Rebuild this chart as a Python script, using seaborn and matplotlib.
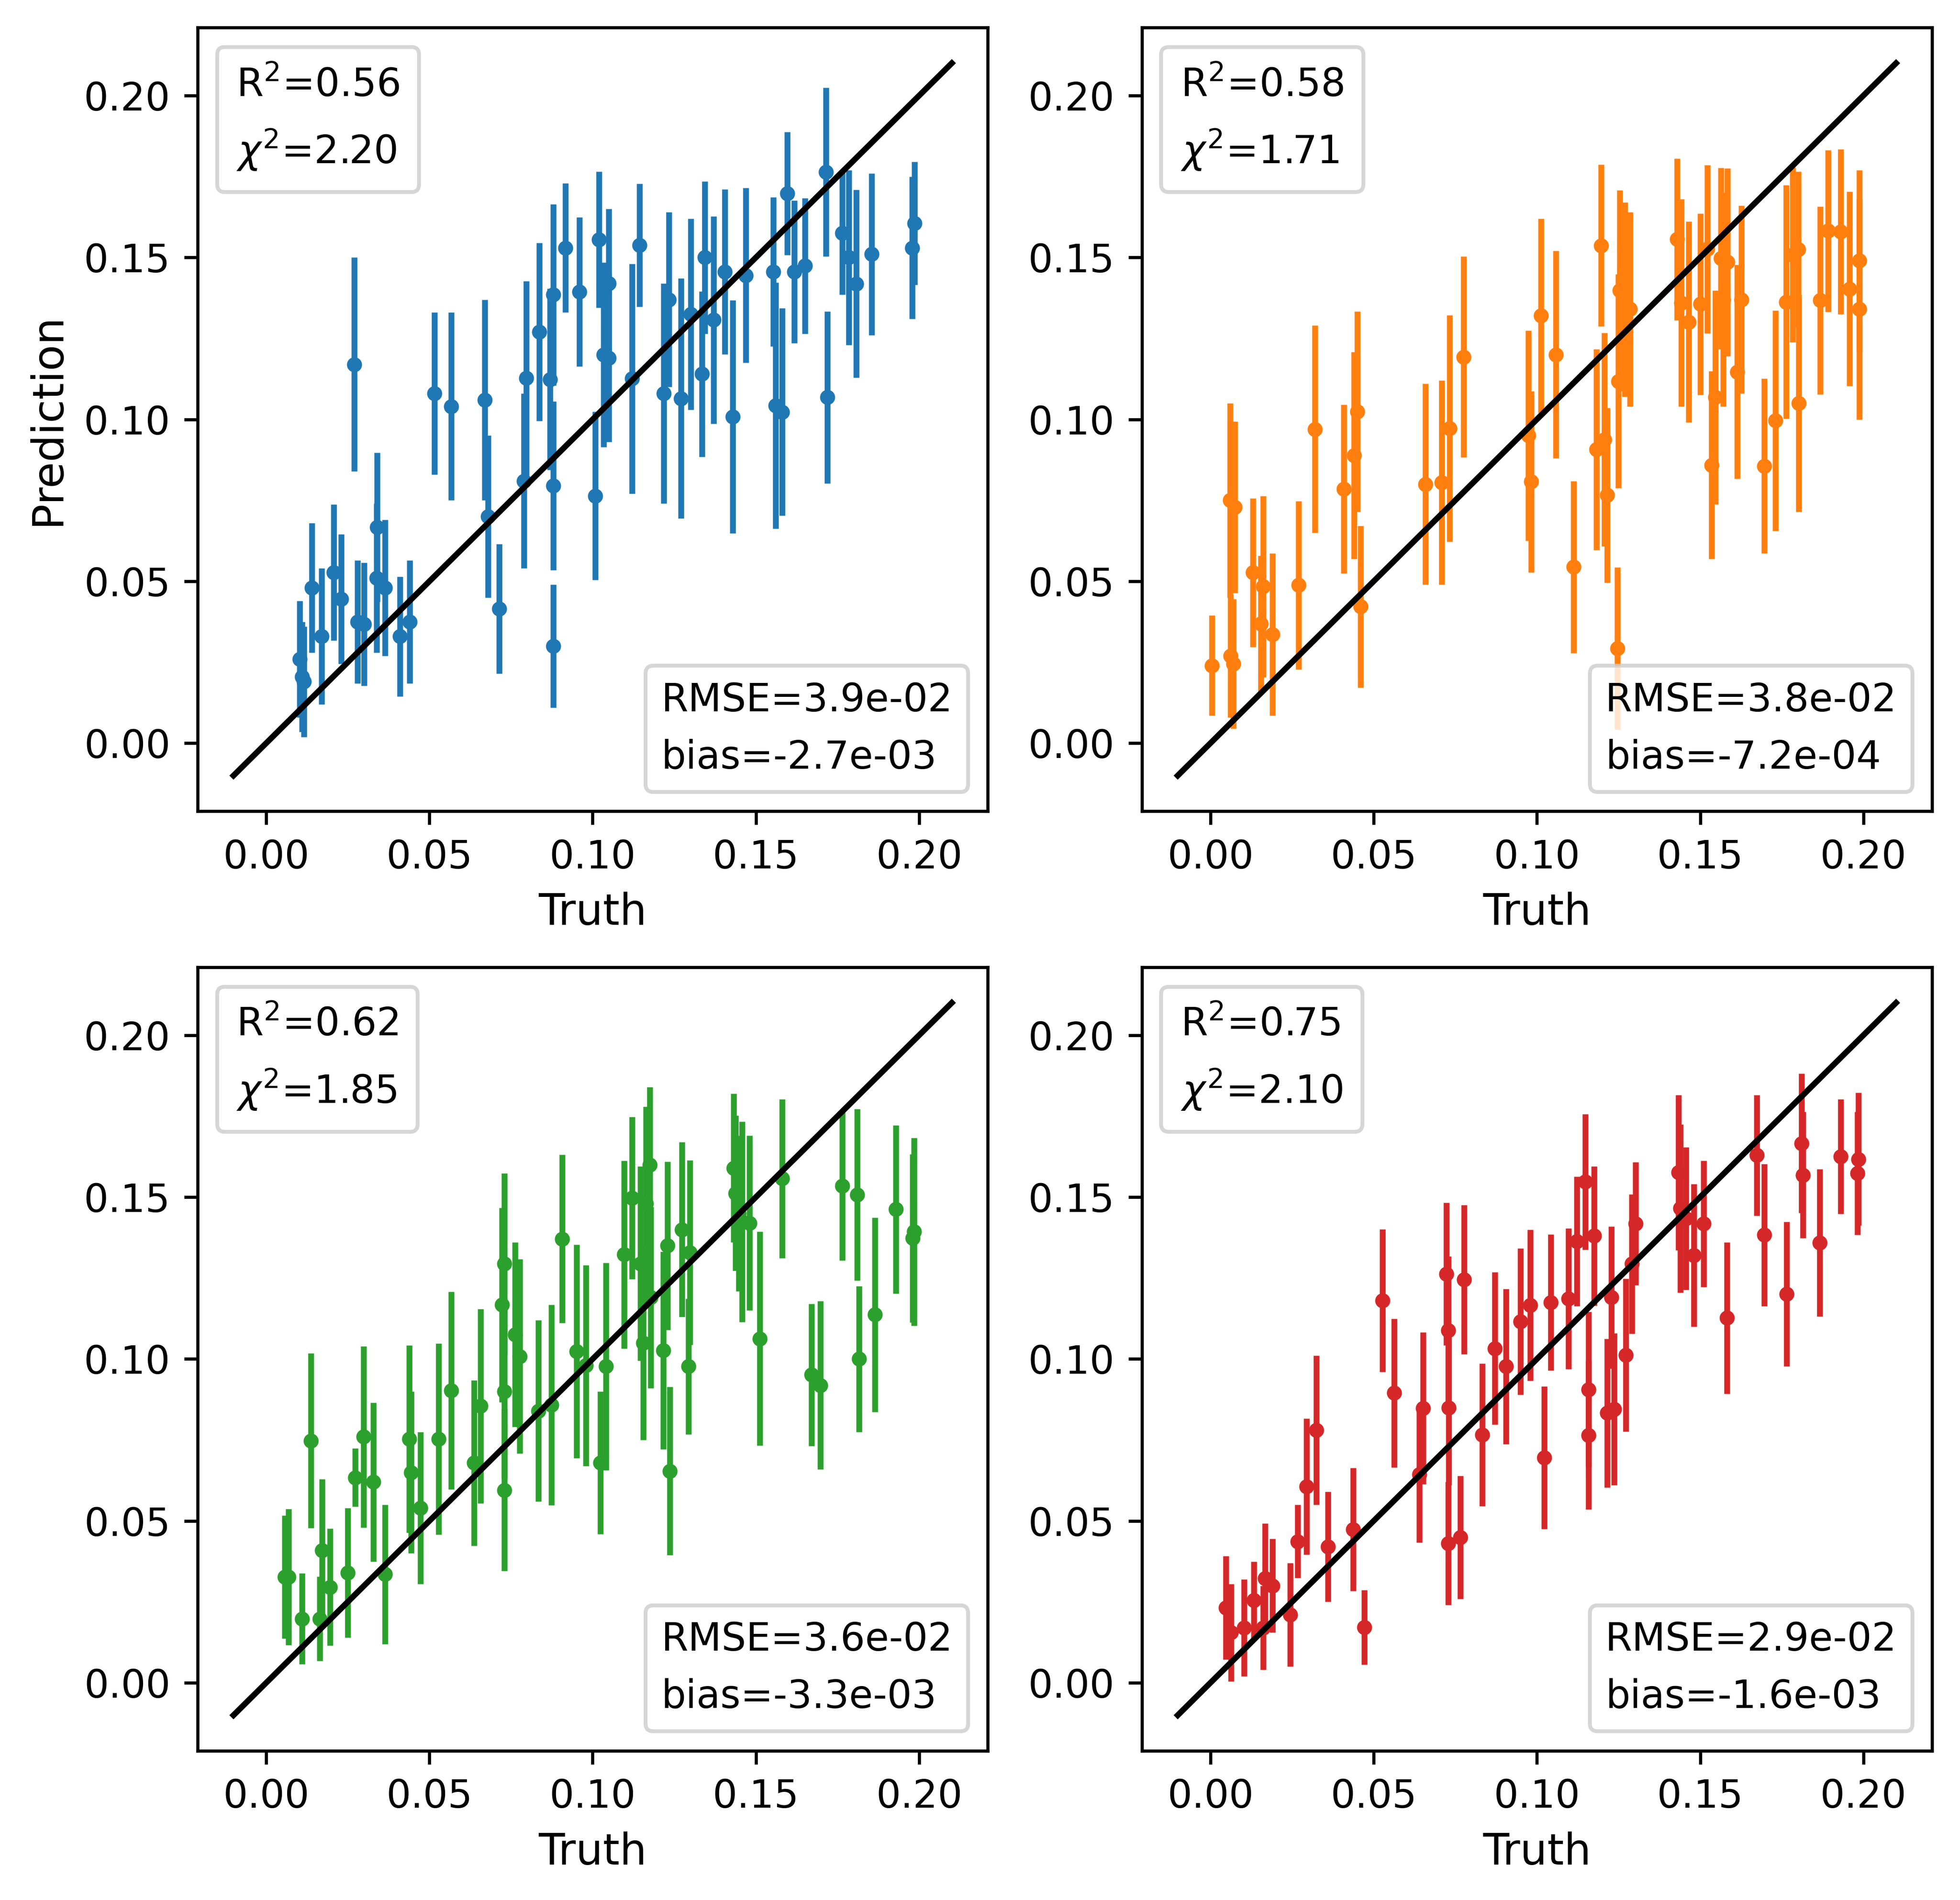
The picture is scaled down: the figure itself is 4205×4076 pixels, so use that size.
import numpy as np
import pandas as pd
import seaborn as sns
import matplotlib.pyplot as plt

# valores (truth, prediction, erro)
truth_a = [0.0103, 0.011, 0.0115, 0.014, 0.017, 0.0207, 0.023, 0.027, 0.028, 0.030,
           0.0338, 0.034, 0.0364, 0.041, 0.044, 0.0515, 0.0567, 0.067, 0.068, 0.0714,
           0.079, 0.0797, 0.0837, 0.087, 0.088, 0.088, 0.088, 0.0916, 0.096, 0.1008,
           0.102, 0.1034, 0.105, 0.105, 0.112, 0.1143, 0.1218, 0.1234, 0.127, 0.130,
           0.1335, 0.1344, 0.137, 0.1405, 0.1429, 0.1469, 0.1553, 0.156, 0.158, 0.1596,
           0.1617, 0.165, 0.1714, 0.1719, 0.1765, 0.1785, 0.1808, 0.1855, 0.1978, 0.1986]
pred_a = [0.026, 0.0205, 0.019, 0.048, 0.033, 0.0527, 0.0445, 0.117, 0.0375, 0.0367,
          0.051, 0.0667, 0.048, 0.033, 0.0375, 0.108, 0.104, 0.106, 0.070, 0.0415,
          0.081, 0.1127, 0.127, 0.1124, 0.1385, 0.0795, 0.030, 0.153, 0.1394, 0.0764,
          0.1555, 0.120, 0.119, 0.142, 0.1126, 0.1538, 0.108, 0.137, 0.1065, 0.1325,
          0.114, 0.150, 0.1307, 0.1456, 0.1008, 0.1445, 0.1456, 0.1043, 0.1023, 0.1698,
          0.1456, 0.1474, 0.1764, 0.1068, 0.1575, 0.150, 0.1419, 0.151, 0.153, 0.1606]
err_a = [0.018, 0.017, 0.017, 0.020, 0.021, 0.021, 0.020, 0.033, 0.019, 0.019,
         0.023, 0.023, 0.021, 0.0185, 0.019, 0.025, 0.029, 0.031, 0.025, 0.020,
         0.027, 0.030, 0.0275, 0.028, 0.028, 0.026, 0.019, 0.020, 0.023, 0.026,
         0.021, 0.0285, 0.026, 0.023, 0.0355, 0.019, 0.034, 0.027, 0.037, 0.0295,
         0.0255, 0.0235, 0.032, 0.0255, 0.036, 0.027, 0.023, 0.038, 0.032, 0.019,
         0.022, 0.021, 0.026, 0.0265, 0.019, 0.027, 0.029, 0.025, 0.022, 0.019]

truth_b = [0.0005, 0.006, 0.0074, 0.0062, 0.007, 0.013, 0.0162, 0.0154, 0.019, 0.027,
           0.032, 0.0409, 0.044, 0.045, 0.046, 0.0658, 0.0708, 0.0732, 0.0776, 0.0974,
           0.0982, 0.1012, 0.1058, 0.1113, 0.1183, 0.1197, 0.1206, 0.1215, 0.1246, 0.1249,
           0.1254, 0.127, 0.1285, 0.143, 0.1442, 0.1465, 0.150, 0.1522, 0.1535, 0.1546,
           0.1563, 0.157, 0.1584, 0.1613, 0.1627, 0.1696, 0.1731, 0.1763, 0.1784, 0.1801,
           0.1802, 0.1867, 0.1892, 0.193, 0.1957, 0.1987, 0.1987]
pred_b = [0.024, 0.075, 0.0729, 0.027, 0.0245, 0.0527, 0.0484, 0.0369, 0.0336, 0.0488,
          0.097, 0.0785, 0.0889, 0.1024, 0.0422, 0.080, 0.0805, 0.0972, 0.1193, 0.095,
          0.0808, 0.132, 0.120, 0.0544, 0.0907, 0.1537, 0.0938, 0.0766, 0.0293, 0.1118,
          0.1398, 0.137, 0.134, 0.1556, 0.136, 0.1301, 0.1356, 0.1526, 0.0859, 0.1068,
          0.1497, 0.137, 0.1486, 0.1147, 0.137, 0.0856, 0.0996, 0.1363, 0.1508, 0.1525,
          0.105, 0.1368, 0.1582, 0.158, 0.1403, 0.149, 0.134]
err_b = [0.0155, 0.030, 0.0265, 0.019, 0.020, 0.023, 0.028, 0.021, 0.025, 0.026,
         0.032, 0.026, 0.032, 0.031, 0.025, 0.031, 0.0315, 0.035, 0.031, 0.0325,
         0.028, 0.030, 0.032, 0.0265, 0.031, 0.025, 0.033, 0.027, 0.025, 0.033,
         0.031, 0.030, 0.030, 0.025, 0.032, 0.031, 0.028, 0.026, 0.029, 0.033,
         0.028, 0.033, 0.029, 0.033, 0.029, 0.027, 0.034, 0.036, 0.027, 0.024,
         0.0335, 0.029, 0.025, 0.0255, 0.030, 0.028, 0.034]

truth_c = [0.0057, 0.0069, 0.011, 0.0137, 0.0164, 0.0172, 0.0195, 0.025, 0.0272, 0.0298,
           0.0329, 0.0364, 0.0438, 0.0444, 0.0473, 0.0528, 0.0567, 0.0637, 0.0656, 0.0723,
           0.073, 0.073, 0.073, 0.0763, 0.0776, 0.0834, 0.0873, 0.0906, 0.0951, 0.098,
           0.1023, 0.1041, 0.1097, 0.112, 0.1147, 0.1155, 0.1163, 0.1175, 0.1178, 0.1217,
           0.1229, 0.1237, 0.1273, 0.1293, 0.1298, 0.1432, 0.1437, 0.1447, 0.1458, 0.1481,
           0.1512, 0.158, 0.167, 0.1697, 0.1764, 0.181, 0.1816, 0.1865, 0.1928, 0.198, 0.1985]
pred_c = [0.0327, 0.0327, 0.0198, 0.0748, 0.0198, 0.0409, 0.0296, 0.034, 0.0634, 0.076,
          0.062, 0.0335, 0.0753, 0.065, 0.054, 0.0753, 0.0903, 0.0679, 0.0855, 0.1167,
          0.1294, 0.090, 0.0595, 0.1075, 0.1008, 0.084, 0.0858, 0.1371, 0.1024, 0.098,
          0.068, 0.0977, 0.1323, 0.1497, 0.1295, 0.105, 0.148, 0.160, 0.119, 0.1027,
          0.135, 0.0654, 0.140, 0.0977, 0.1329, 0.159, 0.1512, 0.145, 0.1424, 0.142,
          0.1063, 0.1557, 0.0951, 0.0919, 0.1534, 0.1507, 0.100, 0.1137, 0.1462, 0.1373, 0.1393]
err_c = [0.019, 0.021, 0.014, 0.027, 0.013, 0.022, 0.018, 0.020, 0.009, 0.028,
         0.0245, 0.0215, 0.029, 0.025, 0.0235, 0.0295, 0.0305, 0.0255, 0.030, 0.030,
         0.028, 0.027, 0.025, 0.0285, 0.030, 0.028, 0.031, 0.026, 0.033, 0.031,
         0.022, 0.032, 0.029, 0.025, 0.030, 0.030, 0.030, 0.024, 0.028, 0.0305,
         0.026, 0.026, 0.027, 0.021, 0.0285, 0.023, 0.024, 0.024, 0.031, 0.027,
         0.033, 0.0245, 0.022, 0.026, 0.023, 0.0265, 0.0225, 0.030, 0.026, 0.026, 0.029]

truth_d = [0.0048, 0.0063, 0.0103, 0.0133, 0.0162, 0.0167, 0.019, 0.0245, 0.0268, 0.0295,
           0.0324, 0.036, 0.0437, 0.0471, 0.0527, 0.0563, 0.064, 0.0652, 0.0722, 0.0728,
           0.0728, 0.073, 0.0766, 0.0777, 0.0832, 0.0871, 0.0905, 0.0949, 0.098, 0.1023,
           0.1042, 0.1096, 0.1123, 0.1148, 0.1158, 0.1158, 0.1175, 0.1215, 0.1228, 0.1237,
           0.1273, 0.1291, 0.1302, 0.1434, 0.1439, 0.1457, 0.148, 0.1511, 0.1582, 0.1673,
           0.1696, 0.1765, 0.1811, 0.1815, 0.1866, 0.193, 0.1982, 0.1985]
pred_d = [0.0232, 0.0155, 0.017, 0.0255, 0.017, 0.0322, 0.030, 0.021, 0.0437, 0.0606,
          0.078, 0.042, 0.0474, 0.0172, 0.1181, 0.0895, 0.0644, 0.0848, 0.1263, 0.1088,
          0.043, 0.085, 0.045, 0.1245, 0.0766, 0.1033, 0.0977, 0.1116, 0.1166, 0.0695,
          0.1175, 0.1186, 0.1364, 0.1547, 0.0906, 0.0765, 0.138, 0.0833, 0.119, 0.0845,
          0.1012, 0.1294, 0.1418, 0.1576, 0.1465, 0.1434, 0.132, 0.1418, 0.1127, 0.1629,
          0.1383, 0.1201, 0.1666, 0.1568, 0.1359, 0.1625, 0.1574, 0.1617]
err_d = [0.016, 0.015, 0.015, 0.012, 0.013, 0.017, 0.0145, 0.016, 0.0113, 0.021,
         0.023, 0.017, 0.019, 0.0115, 0.022, 0.023, 0.021, 0.0235, 0.022, 0.023,
         0.019, 0.024, 0.019, 0.023, 0.022, 0.0235, 0.024, 0.0226, 0.0233, 0.022,
         0.021, 0.0217, 0.020, 0.021, 0.024, 0.023, 0.0215, 0.023, 0.022, 0.0235,
         0.0236, 0.0215, 0.019, 0.024, 0.026, 0.022, 0.022, 0.0195, 0.0234, 0.0186,
         0.022, 0.0223, 0.0215, 0.0195, 0.0227, 0.0177, 0.019, 0.0205]

r2_labels = ["0.56", "0.58", "0.62", "0.75"]
chi2_labels = ["2.20", "1.71", "1.85", "2.10"]
rmse_labels = ["3.9e-02", "3.8e-02", "3.6e-02", "2.9e-02"]
bias_labels = ["-2.7e-03", "-7.2e-04", "-3.3e-03", "-1.6e-03"]
line_ends = [-0.01, 0.21]

paineis = [(truth_a, pred_a, err_a), (truth_b, pred_b, err_b),
           (truth_c, pred_c, err_c), (truth_d, pred_d, err_d)]
cores = sns.color_palette("tab10", 4)

fig, axes = plt.subplots(2, 2, figsize=(4205 / 600, 4076 / 600), dpi=600)
fig.subplots_adjust(left=0.1008, right=0.9857, top=0.9855, bottom=0.0785,
                    wspace=0.195, hspace=0.199)

for i, ax in enumerate(axes.flat):
    t, p, e = paineis[i]
    df = pd.DataFrame({"Truth": t, "Prediction": p, "err": e})
    ax.errorbar(df["Truth"], df["Prediction"], yerr=df["err"], fmt="none",
                ecolor=cores[i], elinewidth=1.5, zorder=2)
    sns.scatterplot(data=df, x="Truth", y="Prediction", ax=ax, color=cores[i],
                    s=15, linewidth=0, zorder=3)
    sns.lineplot(x=line_ends, y=line_ends, ax=ax, color="black", lw=1.5, zorder=4)

    # caixas de texto tipo legenda
    vazio = [plt.Line2D([], [], linestyle="none")] * 2
    leg1 = ax.legend(vazio, [f"R$^2$={r2_labels[i]}", f"$\\chi^2$={chi2_labels[i]}"],
                     loc="upper left", handlelength=0, handletextpad=0,
                     labelspacing=0.6, borderpad=0.5)
    ax.add_artist(leg1)
    ax.legend(vazio, [f"RMSE={rmse_labels[i]}", f"bias={bias_labels[i]}"],
              loc="lower right", handlelength=0, handletextpad=0)

    ax.set_xticks([0.0, 0.05, 0.10, 0.15, 0.20])
    ax.set_yticks([0.0, 0.05, 0.10, 0.15, 0.20])
    ax.set_xlabel("Truth", fontsize=11)
    if i == 0:
        ax.set_ylabel("Prediction", fontsize=11)
    else:
        ax.set_ylabel("")

fig.savefig("out.png", dpi=600)
